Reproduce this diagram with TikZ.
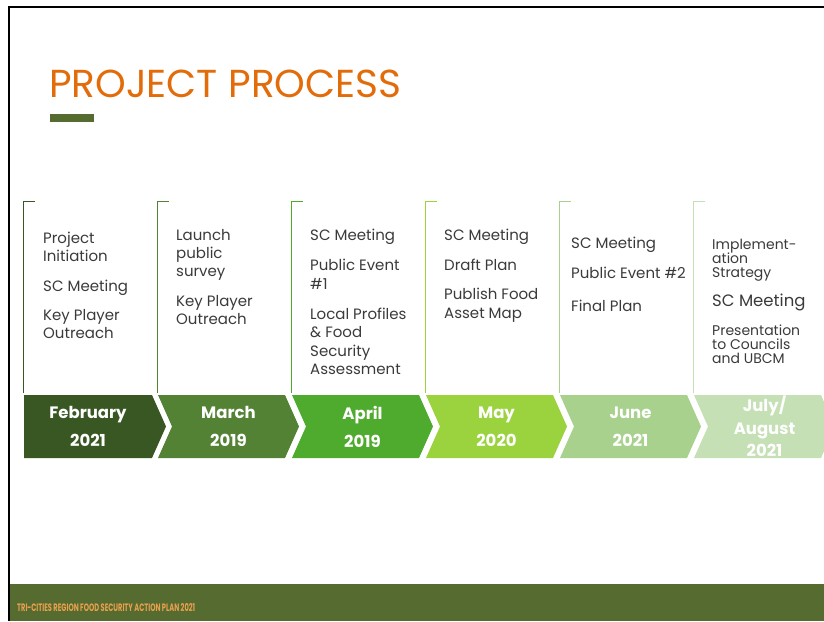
\documentclass[tikz,border=0pt]{standalone}
\usepackage{fontspec}
\setmainfont{Poppins}
\usepackage{xcolor}
\usetikzlibrary{shapes.symbols}
\definecolor{titleorange}{HTML}{E36C0A}
\definecolor{olivebar}{HTML}{556B2F}
\definecolor{foottext}{HTML}{E8A04E}
\definecolor{stepA}{HTML}{385723}
\definecolor{stepB}{HTML}{548235}
\definecolor{stepC}{HTML}{4FAB2E}
\definecolor{stepD}{HTML}{9BD33F}
\definecolor{stepE}{HTML}{A9D18E}
\definecolor{stepF}{HTML}{C5E0B4}
\definecolor{itemgray}{HTML}{3A3A3A}
\tikzset{chev/.style={signal, signal to=east, signal pointer angle=132,
        minimum width=141pt, minimum height=63pt, inner sep=0pt, draw=none,
        font=\fontsize{16.5}{28}\selectfont\bfseries, text=white, align=center},
    items/.style={anchor=north west, inner sep=0pt, align=left,
        font=\fontsize{15}{18.3}\selectfont, text=itemgray},
    bracket/.style={line width=1.2pt}}
\begin{document}
\begin{tikzpicture}[x=1pt,y=-1pt]
\useasboundingbox (0,0) rectangle (824,621);
\clip (0,0) rectangle (824,621);
% frame and footer
\fill[olivebar] (10,584) rectangle (824,621);
\draw[line width=2.5pt] (9,621) -- (9,7) -- (824,7);
\node[anchor=base west,inner sep=0pt,text=foottext] (foot) at (17,611)
  {\resizebox{178pt}{8pt}{\bfseries TRI-CITIES REGION FOOD SECURITY ACTION PLAN 2021}};
% title
\node[anchor=base west,inner sep=0pt,text=titleorange,font=\fontsize{39}{40}\selectfont] (title) at (49,97) {PROJECT PROCESS};
\fill[olivebar] (50,114) rectangle (94,122);
% steps
\node[chev, fill=stepA, minimum width=142pt] (feb) at (88,426.5) {February\\2021};
\node[chev, fill=stepB, signal from=west] (mar) at (228.5,426.5) {March\\2019};
\node[chev, fill=stepC, signal from=west] (apr) at (362.5,426.5) {April\\2019};
\node[chev, fill=stepD, signal from=west] (may) at (496.5,426.5) {May\\2020};
\node[chev, fill=stepE, signal from=west] (jun) at (630.5,426.5) {June\\2021};
\node[chev, fill=stepF, signal from=west, font=\fontsize{16.5}{22.5}\selectfont\bfseries] (jul) at (764.5,426.5) {July/\\August\\2021};
% brackets
\foreach \n/\c in {feb/stepA,mar/stepB,apr/stepC,may/stepD,jun/stepE,jul/stepF}{
  \draw[bracket,\c] (\n.north west) ++(0,-2) -- ++(0,-191) -- ++(11,0);
}
% lists
\node[items] (febtxt) at (43,232) {Project\\Initiation\\[11pt]SC Meeting\\[11pt]Key Player\\Outreach};
\node[items] (martxt) at (176,229) {Launch\\public\\survey\\[11pt]Key Player\\Outreach};
\node[items] (aprtxt) at (310,229) {SC Meeting\\[12pt]Public Event\\\#1\\[12pt]Local Profiles\\\& Food\\Security\\Assessment};
\node[items] (maytxt) at (444,229) {SC Meeting\\[11.5pt]Draft Plan\\[11pt]Publish Food\\Asset Map};
\node[items] (juntxt) at (571,237) {SC Meeting\\[12pt]Public Event \#2\\[14pt]Final Plan};
\node[items, font=\fontsize{14}{14.3}\selectfont] (jultxt) at (712,238.5) {Implement-\\ation\\Strategy\\[11pt]{\fontsize{16.5}{16}\selectfont SC Meeting}\\[13pt]Presentation\\to Councils\\and UBCM};
\end{tikzpicture}
\end{document}
